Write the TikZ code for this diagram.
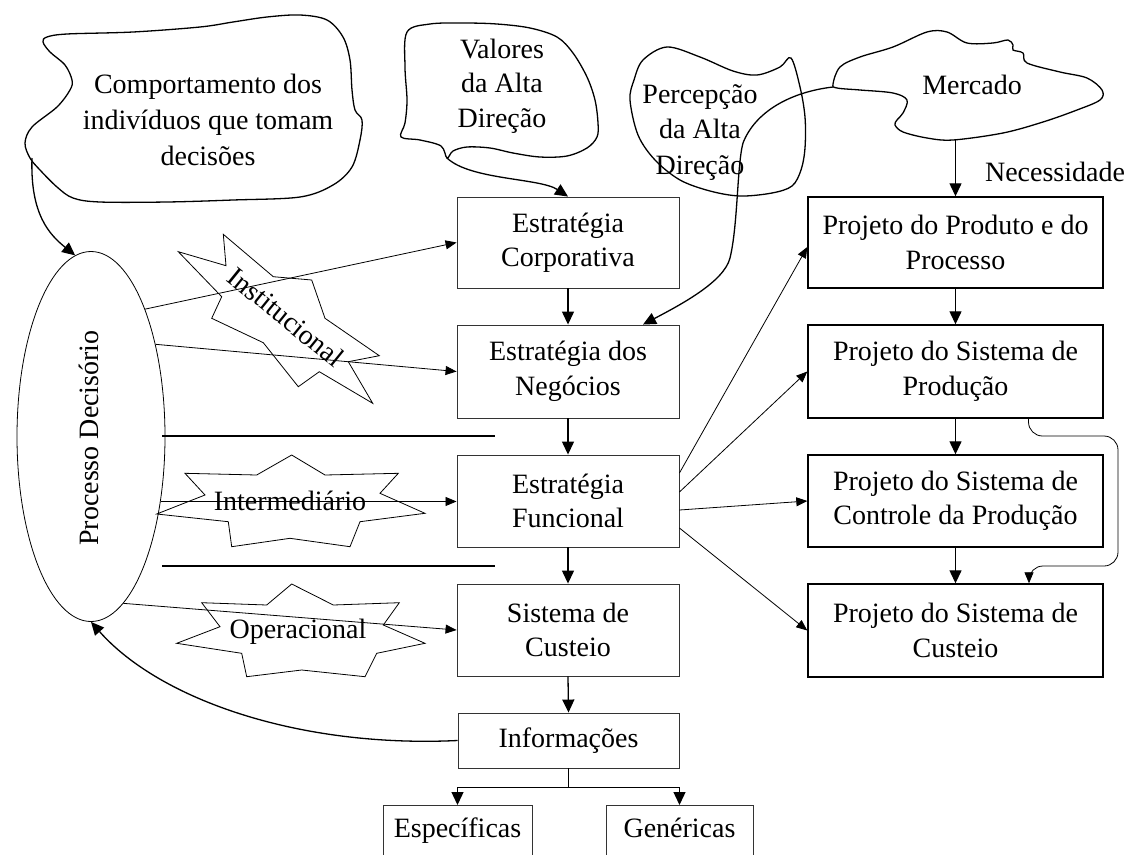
\documentclass[tikz,border=0pt]{standalone}
\usepackage{fontspec}
\setmainfont{Liberation Serif}
\usetikzlibrary{arrows.meta,shapes.geometric,calc}
\begin{document}
\begin{tikzpicture}[x=1pt,y=-1pt,
  every node/.style={font=\fontsize{28}{34.5}\selectfont, align=center, inner sep=0pt},
  lbox/.style={draw=black!80, line width=0.9pt, minimum width=222pt, minimum height=92pt},
  rbox/.style={draw, line width=1.4pt, minimum width=295pt, minimum height=92pt},
  cloudline/.style={draw, line width=1.3pt},
  starshape/.style={draw, line width=0.8pt, line join=miter},
  flow/.style={line width=1.3pt, -{Triangle[length=13pt,width=12pt]}},
  link/.style={line width=0.8pt, -{Triangle[length=11pt,width=9pt]}},
  rule/.style={line width=1.1pt},
]
\useasboundingbox (0,0) rectangle (1129,854);
\clip (0,0) rectangle (1129,854);

% ---------- central column ----------
\node[lbox, minimum height=91pt] (corp) at (568,242.5) {Estratégia\\Corporativa};
\node[lbox, minimum height=93pt] (neg) at (568,371.5) {Estratégia dos\\Negócios};
\node[lbox] (fun) at (568,501) {Estratégia\\Funcional};
\node[lbox] (cus) at (568,630) {Sistema de\\Custeio};
\node[lbox, minimum width=221pt, minimum height=55pt] (inf) at (568.5,740.5) {Informações};
\node[draw=black!80, line width=0.9pt, anchor=north, minimum width=149pt,
      text height=32pt, text depth=60pt] (esp) at (457.5,805) {Específicas};
\node[draw=black!80, line width=0.9pt, anchor=north, minimum width=147pt,
      text height=32pt, text depth=60pt] (gen) at (679.5,805) {Genéricas};

% ---------- right column ----------
\node[rbox, minimum height=91pt] (prod) at (955.5,242.5) {Projeto do Produto e do\\Processo};
\node[rbox, minimum height=93pt] (sp) at (955.5,371.5) {Projeto do Sistema de\\Produção};
\node[rbox] (ctl) at (955.5,501) {Projeto do Sistema de\\Controle da Produção};
\node[rbox, minimum height=93pt] (pcus) at (955.5,630.5) {Projeto do Sistema de\\Custeio};

% ---------- decision process ----------
\node[ellipse, draw, line width=0.8pt, minimum width=148pt, minimum height=370pt] (pd) at (91,436.5) {};
\node[rotate=90] (pdlabel) at (89,438) {Processo Decisório};

% ---------- clouds ----------
\draw[cloudline] plot[smooth cycle, tension=0.55] coordinates {
  (47,37) (67,34) (133,32) (200,27) (233,22) (267,17) (300,15) (327,20) (343,37)
  (350,60) (352,90) (355,110) (362,120) (360,140) (352,167) (333,185) (300,197)
  (233,200) (167,202) (100,202) (73,198) (57,187) (40,170) (30,158) (25,143)
  (32,127) (57,107) (70,90) (72,80) (65,65) (50,52) (43,42)};
\node[font=\fontsize{28}{36}\selectfont] (comptext) at (208,120) {Comportamento dos\\indivíduos que tomam\\decisões};
\coordinate (combot) at (32,158);

\draw[cloudline] plot[smooth cycle, tension=0.55] coordinates {
  (407,32) (430,24) (463,23) (497,24) (530,28) (557,37) (573,53) (587,77)
  (595,100) (598,123) (597,137) (587,148) (567,156) (540,157) (513,153)
  (490,148) (467,147) (453,151) (447,158) (441,146) (420,140) (401,137)
  (405,123) (407,100) (405,67)};
\node (valtext) at (502,86) {Valores\\da Alta\\Direção};
\coordinate (valbot) at (447,158);

\draw[cloudline] plot[smooth cycle, tension=0.55] coordinates {
  (630,100) (634,80) (643,60) (667,47) (700,57) (733,71) (757,75) (780,67)
  (791,58) (800,87) (805,117) (805,148) (801,170) (792,186) (772,193)
  (740,196) (710,191) (680,180) (655,160) (638,135)};
\node[font=\fontsize{28}{35.5}\selectfont] (pertext) at (700,132.5) {Percepção\\da Alta\\Direção};

\draw[cloudline] plot[smooth cycle, tension=0.55] coordinates {
  (833,84) (840,67) (860,57) (893,47) (927,32) (947,32) (967,43) (993,43)
  (1008,40) (1013,45) (1013,50) (1023,53) (1027,63) (1060,72) (1087,78)
  (1102,90) (1100,100) (1077,110) (1043,122) (1003,133) (953,140) (927,138)
  (903,132) (895,125) (897,120) (903,113) (907,100) (893,93) (860,90) (837,88)};
\node (merctext) at (972,85) {Mercado};
\coordinate (mercleft) at (833,87);
\coordinate (mercbot) at (955.5,140);
\node (nec) at (1055,172) {Necessidade};

% ---------- level stars ----------
\draw[starshape] (223.3,234.3) -- (226,265.7) -- (178.3,251.7) -- (221.7,296.7)
  -- (211.7,318.3) -- (263.3,342.7) -- (298.3,386.7) -- (319.3,371.7)
  -- (372.7,403.3) -- (348.3,361.7) -- (379.3,355.7) -- (325,318.3)
  -- (311.7,280) -- (273.3,276.7) -- cycle;
\node[rotate=-39] (inst) at (286,317) {Institucional};

\draw[starshape] (291.7,455) -- (325,475) -- (398.3,473.3) -- (380,493.3)
  -- (425,513.3) -- (360,521.7) -- (350,546.7) -- (290,538.3) -- (231.7,546.7)
  -- (228.3,521.7) -- (156.7,514) -- (205,495) -- (185,473.3) -- (256.7,475) -- cycle;
\node (inter) at (290,501) {Intermediário};

\draw[starshape] (291.7,584) -- (333.3,605) -- (399.3,602.7) -- (383.3,625)
  -- (425,643.3) -- (376.7,653.3) -- (365,676.7) -- (301.7,670) -- (246.7,676.7)
  -- (241.7,653.3) -- (176.7,643.3) -- (220,626.7) -- (201.7,602.7) -- (266.7,605) -- cycle;
\node (oper) at (298,632) {Operacional};

% ---------- level separators ----------
\coordinate (s1a) at (162,436);  \coordinate (s1b) at (495,436);
\coordinate (s2a) at (162,566);  \coordinate (s2b) at (495,566);
\draw[rule] (s1a) -- (s1b);
\draw[rule] (s2a) -- (s2b);

% ---------- connectors ----------
\draw[flow] (corp.south) -- (neg.north);
\draw[flow] (neg.south) -- (fun.north);
\draw[flow] (fun.south) -- (cus.north);
\draw[flow] (cus.south) -- (inf.north);
\coordinate (split) at ($(inf.south)+(0,19)$);
\draw[rule] (inf.south) -- (split);
\draw[flow] (split) -| (esp.north);
\draw[flow] (split) -| (gen.north);

\draw[flow] (mercbot) -- (prod.north);
\draw[flow] (prod.south) -- (sp.north);
\draw[flow] (sp.south) -- (ctl.north);
\draw[flow] (ctl.south) -- (pcus.north);

\coordinate (loopA) at (1118,436);
\coordinate (loopB) at (1118,566);
\draw[link, rounded corners=14pt] ([xshift=73pt]sp.south) |- (loopA) -- (loopB) -| ([xshift=73.5pt]pcus.north);

\draw[link] (pd.67) -- (corp.west);
\draw[link] (pd.55) -- (neg.west);
\draw[link] (pd.-43) -- (pd.-43 -| fun.west);
\draw[link] (pd.-79) -- (cus.west);

\draw[link] ([yshift=28pt]fun.east) -- ([yshift=-4.5pt]prod.west);
\draw[link] ([yshift=9pt]fun.east) -- (sp.west);
\draw[link] ([yshift=-9pt]fun.east) -- (ctl.west);
\draw[link] ([yshift=-27pt]fun.east) -- (pcus.west);

\draw[flow] (combot) .. controls (30,215) and (50,235) .. (pd.95);
\draw[flow] (valbot) .. controls (470,180) and (540,178) .. (corp.north);
\draw[flow] (mercleft) .. controls (790,92) and (755,112) .. (743,143)
  .. controls (737,165) and (738,225) .. (730,258)
  .. controls (724,282) and (680,305) .. ([xshift=75pt]neg.north);
\draw[flow] (inf.west) .. controls (300,748) and (160,700) .. (pd.south);
\end{tikzpicture}
\end{document}
